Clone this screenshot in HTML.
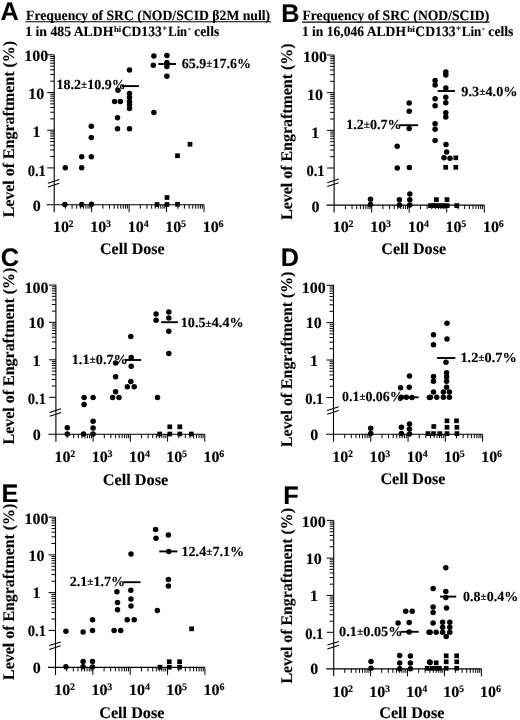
<!DOCTYPE html>
<html><head><meta charset="utf-8"><style>
html,body{margin:0;padding:0;background:#fff;}
body{width:520px;height:720px;overflow:hidden;}
svg{display:block;will-change:transform;}
text{font-family:"Liberation Serif",serif;font-weight:bold;fill:#000;stroke:#000;stroke-width:0.12px;text-rendering:geometricPrecision;}
.pl{font-family:"Liberation Sans",sans-serif;}
</style></head><body>
<svg width="520" height="720" viewBox="0 0 520 720">
<rect width="520" height="720" fill="#fff"/>
<path d="M54.20 54.80V212.20M46.70 204.70H204.00" stroke="#000" stroke-width="1.1" fill="none"/>
<path d="M47.20 54.80H54.20M47.20 92.50H54.20M47.20 130.20H54.20M47.20 167.90H54.20M50.20 81.15H54.20M50.20 74.51H54.20M50.20 69.80H54.20M50.20 66.15H54.20M50.20 63.16H54.20M50.20 60.64H54.20M50.20 58.45H54.20M50.20 56.53H54.20M50.20 118.85H54.20M50.20 112.21H54.20M50.20 107.50H54.20M50.20 103.85H54.20M50.20 100.86H54.20M50.20 98.34H54.20M50.20 96.15H54.20M50.20 94.23H54.20M50.20 156.55H54.20M50.20 149.91H54.20M50.20 145.20H54.20M50.20 141.55H54.20M50.20 138.56H54.20M50.20 136.04H54.20M50.20 133.85H54.20M50.20 131.93H54.20M91.65 204.70V212.20M129.10 204.70V212.20M166.55 204.70V212.20M204.00 204.70V212.20M65.47 204.70V208.70M72.07 204.70V208.70M76.75 204.70V208.70M80.38 204.70V208.70M83.34 204.70V208.70M85.85 204.70V208.70M88.02 204.70V208.70M89.94 204.70V208.70M102.92 204.70V208.70M109.52 204.70V208.70M114.20 204.70V208.70M117.83 204.70V208.70M120.79 204.70V208.70M123.30 204.70V208.70M125.47 204.70V208.70M127.39 204.70V208.70M140.37 204.70V208.70M146.97 204.70V208.70M151.65 204.70V208.70M155.28 204.70V208.70M158.24 204.70V208.70M160.75 204.70V208.70M162.92 204.70V208.70M164.84 204.70V208.70M177.82 204.70V208.70M184.42 204.70V208.70M189.10 204.70V208.70M192.73 204.70V208.70M195.69 204.70V208.70M198.20 204.70V208.70M200.37 204.70V208.70M202.29 204.70V208.70" stroke="#000" stroke-width="1.0" fill="none"/>
<path d="M47.90 183.20L59.40 179.50M47.90 187.00L59.40 183.30" stroke="#000" stroke-width="1.1" fill="none"/>
<text x="24.35" y="61.40" class="tl" style="font-size:15.7px" textLength="24.02" lengthAdjust="spacingAndGlyphs">100</text>
<text x="28.35" y="99.10" class="tl" style="font-size:15.7px" textLength="16.01" lengthAdjust="spacingAndGlyphs">10</text>
<text x="32.48" y="136.80" class="tl" style="font-size:15.7px" textLength="8.01" lengthAdjust="spacingAndGlyphs">1</text>
<text x="27.68" y="175.80" class="tl" style="font-size:15.7px" textLength="18.25" lengthAdjust="spacingAndGlyphs">0.1</text>
<text x="32.70" y="210.50" class="tl" style="font-size:15.7px" textLength="8.01" lengthAdjust="spacingAndGlyphs">0</text>
<text x="52.92" y="231.80" class="tl" style="font-size:15.7px" textLength="16.01" lengthAdjust="spacingAndGlyphs">10</text>
<text x="68.61" y="226.90" class="tl" style="font-size:10.0px" textLength="5.00" lengthAdjust="spacingAndGlyphs">2</text>
<text x="90.37" y="231.80" class="tl" style="font-size:15.7px" textLength="16.01" lengthAdjust="spacingAndGlyphs">10</text>
<text x="106.11" y="226.90" class="tl" style="font-size:10.0px" textLength="5.00" lengthAdjust="spacingAndGlyphs">3</text>
<text x="127.82" y="231.80" class="tl" style="font-size:15.7px" textLength="16.01" lengthAdjust="spacingAndGlyphs">10</text>
<text x="143.81" y="226.90" class="tl" style="font-size:10.0px" textLength="5.00" lengthAdjust="spacingAndGlyphs">4</text>
<text x="165.27" y="231.80" class="tl" style="font-size:15.7px" textLength="16.01" lengthAdjust="spacingAndGlyphs">10</text>
<text x="180.98" y="226.90" class="tl" style="font-size:10.0px" textLength="5.00" lengthAdjust="spacingAndGlyphs">5</text>
<text x="202.72" y="231.80" class="tl" style="font-size:15.7px" textLength="16.01" lengthAdjust="spacingAndGlyphs">10</text>
<text x="218.48" y="226.90" class="tl" style="font-size:10.0px" textLength="5.00" lengthAdjust="spacingAndGlyphs">6</text>
<g transform="translate(14.00 129.40) rotate(-90)"><text x="-87.98" y="0.00" class="at" style="font-size:16.2px" textLength="176.37" lengthAdjust="spacingAndGlyphs">Level of Engraftment (%)</text></g>
<text x="100.00" y="253.60" class="at" style="font-size:16.2px" textLength="64.64" lengthAdjust="spacingAndGlyphs">Cell Dose</text>
<circle cx="65.30" cy="167.80" r="2.75"/>
<circle cx="64.90" cy="204.60" r="2.75"/>
<circle cx="81.70" cy="156.70" r="2.75"/>
<circle cx="81.70" cy="167.70" r="2.75"/>
<circle cx="81.70" cy="204.50" r="2.75"/>
<circle cx="91.30" cy="126.30" r="2.75"/>
<circle cx="91.30" cy="137.50" r="2.75"/>
<circle cx="91.30" cy="156.70" r="2.75"/>
<circle cx="91.50" cy="204.30" r="2.75"/>
<circle cx="118.00" cy="90.20" r="2.75"/>
<circle cx="114.60" cy="101.50" r="2.75"/>
<circle cx="120.40" cy="101.50" r="2.75"/>
<circle cx="117.50" cy="117.80" r="2.75"/>
<circle cx="117.50" cy="128.75" r="2.75"/>
<circle cx="129.50" cy="69.90" r="2.75"/>
<circle cx="129.50" cy="93.50" r="2.75"/>
<circle cx="129.50" cy="97.50" r="2.75"/>
<circle cx="129.50" cy="101.70" r="2.75"/>
<circle cx="129.50" cy="104.80" r="2.75"/>
<circle cx="129.50" cy="108.40" r="2.75"/>
<circle cx="129.50" cy="128.75" r="2.75"/>
<circle cx="153.90" cy="55.90" r="2.75"/>
<circle cx="166.90" cy="55.40" r="2.75"/>
<circle cx="153.30" cy="65.30" r="2.75"/>
<circle cx="166.90" cy="62.50" r="2.75"/>
<circle cx="166.90" cy="66.40" r="2.75"/>
<circle cx="166.90" cy="76.25" r="2.75"/>
<circle cx="153.90" cy="112.50" r="2.75"/>
<rect x="187.65" y="141.90" width="4.7" height="4.7"/>
<rect x="175.15" y="153.40" width="4.7" height="4.7"/>
<rect x="164.65" y="195.15" width="4.7" height="4.7"/>
<rect x="154.65" y="202.15" width="4.7" height="4.7"/>
<rect x="164.65" y="202.15" width="4.7" height="4.7"/>
<rect x="175.15" y="201.95" width="4.7" height="4.7"/>
<path d="M122.00 86.10H138.90" stroke="#000" stroke-width="1.9"/>
<path d="M158.30 64.00H176.00" stroke="#000" stroke-width="1.9"/>
<text x="56.58" y="88.90" class="dl" style="font-size:13.9px" textLength="69.25" lengthAdjust="spacingAndGlyphs">18.2<tspan dy="-0.8" style="font-size:11.12px">±</tspan><tspan dy="0.8">10.9%</tspan></text>
<text x="181.81" y="68.10" class="dl" style="font-size:13.9px" textLength="69.12" lengthAdjust="spacingAndGlyphs">65.9<tspan dy="-0.8" style="font-size:11.12px">±</tspan><tspan dy="0.8">17.6%</tspan></text>
<text x="0.41" y="20.20" class="pl" style="font-size:25.3px" textLength="18.27" lengthAdjust="spacingAndGlyphs">A</text>
<path d="M334.10 55.00V212.60M326.60 205.10H484.30" stroke="#000" stroke-width="1.1" fill="none"/>
<path d="M327.10 55.00H334.10M327.10 92.67H334.10M327.10 130.34H334.10M327.10 168.01H334.10M330.10 81.33H334.10M330.10 74.70H334.10M330.10 69.99H334.10M330.10 66.34H334.10M330.10 63.36H334.10M330.10 60.84H334.10M330.10 58.65H334.10M330.10 56.72H334.10M330.10 119.00H334.10M330.10 112.37H334.10M330.10 107.66H334.10M330.10 104.01H334.10M330.10 101.03H334.10M330.10 98.51H334.10M330.10 96.32H334.10M330.10 94.39H334.10M330.10 156.67H334.10M330.10 150.04H334.10M330.10 145.33H334.10M330.10 141.68H334.10M330.10 138.70H334.10M330.10 136.18H334.10M330.10 133.99H334.10M330.10 132.06H334.10M371.65 205.10V212.60M409.20 205.10V212.60M446.75 205.10V212.60M484.30 205.10V212.60M345.40 205.10V209.10M352.02 205.10V209.10M356.71 205.10V209.10M360.35 205.10V209.10M363.32 205.10V209.10M365.83 205.10V209.10M368.01 205.10V209.10M369.93 205.10V209.10M382.95 205.10V209.10M389.57 205.10V209.10M394.26 205.10V209.10M397.90 205.10V209.10M400.87 205.10V209.10M403.38 205.10V209.10M405.56 205.10V209.10M407.48 205.10V209.10M420.50 205.10V209.10M427.12 205.10V209.10M431.81 205.10V209.10M435.45 205.10V209.10M438.42 205.10V209.10M440.93 205.10V209.10M443.11 205.10V209.10M445.03 205.10V209.10M458.05 205.10V209.10M464.67 205.10V209.10M469.36 205.10V209.10M473.00 205.10V209.10M475.97 205.10V209.10M478.48 205.10V209.10M480.66 205.10V209.10M482.58 205.10V209.10" stroke="#000" stroke-width="1.0" fill="none"/>
<path d="M327.30 182.70L338.70 179.00M327.30 186.50L338.70 182.80" stroke="#000" stroke-width="1.1" fill="none"/>
<text x="303.05" y="62.30" class="tl" style="font-size:15.7px" textLength="24.02" lengthAdjust="spacingAndGlyphs">100</text>
<text x="307.05" y="99.97" class="tl" style="font-size:15.7px" textLength="16.01" lengthAdjust="spacingAndGlyphs">10</text>
<text x="311.18" y="137.64" class="tl" style="font-size:15.7px" textLength="8.01" lengthAdjust="spacingAndGlyphs">1</text>
<text x="306.38" y="176.21" class="tl" style="font-size:15.7px" textLength="18.25" lengthAdjust="spacingAndGlyphs">0.1</text>
<text x="311.40" y="212.00" class="tl" style="font-size:15.7px" textLength="8.01" lengthAdjust="spacingAndGlyphs">0</text>
<text x="332.82" y="232.10" class="tl" style="font-size:15.7px" textLength="16.01" lengthAdjust="spacingAndGlyphs">10</text>
<text x="348.51" y="227.20" class="tl" style="font-size:10.0px" textLength="5.00" lengthAdjust="spacingAndGlyphs">2</text>
<text x="370.37" y="232.10" class="tl" style="font-size:15.7px" textLength="16.01" lengthAdjust="spacingAndGlyphs">10</text>
<text x="386.11" y="227.20" class="tl" style="font-size:10.0px" textLength="5.00" lengthAdjust="spacingAndGlyphs">3</text>
<text x="407.92" y="232.10" class="tl" style="font-size:15.7px" textLength="16.01" lengthAdjust="spacingAndGlyphs">10</text>
<text x="423.91" y="227.20" class="tl" style="font-size:10.0px" textLength="5.00" lengthAdjust="spacingAndGlyphs">4</text>
<text x="445.47" y="232.10" class="tl" style="font-size:15.7px" textLength="16.01" lengthAdjust="spacingAndGlyphs">10</text>
<text x="461.18" y="227.20" class="tl" style="font-size:10.0px" textLength="5.00" lengthAdjust="spacingAndGlyphs">5</text>
<text x="483.02" y="232.10" class="tl" style="font-size:15.7px" textLength="16.01" lengthAdjust="spacingAndGlyphs">10</text>
<text x="498.78" y="227.20" class="tl" style="font-size:10.0px" textLength="5.00" lengthAdjust="spacingAndGlyphs">6</text>
<g transform="translate(291.90 131.90) rotate(-90)"><text x="-87.98" y="0.00" class="at" style="font-size:16.2px" textLength="176.37" lengthAdjust="spacingAndGlyphs">Level of Engraftment (%)</text></g>
<text x="381.30" y="253.70" class="at" style="font-size:16.2px" textLength="64.74" lengthAdjust="spacingAndGlyphs">Cell Dose</text>
<circle cx="370.50" cy="199.20" r="2.75"/>
<circle cx="370.50" cy="204.60" r="2.75"/>
<circle cx="397.20" cy="146.20" r="2.75"/>
<circle cx="397.30" cy="168.00" r="2.75"/>
<circle cx="399.40" cy="199.80" r="2.75"/>
<circle cx="399.40" cy="205.00" r="2.75"/>
<circle cx="409.20" cy="103.10" r="2.75"/>
<circle cx="409.20" cy="111.20" r="2.75"/>
<circle cx="409.20" cy="128.60" r="2.75"/>
<circle cx="409.40" cy="167.50" r="2.75"/>
<circle cx="409.80" cy="194.10" r="2.75"/>
<circle cx="409.80" cy="199.80" r="2.75"/>
<circle cx="409.80" cy="205.00" r="2.75"/>
<circle cx="435.10" cy="80.60" r="2.75"/>
<circle cx="435.10" cy="85.10" r="2.75"/>
<circle cx="435.10" cy="98.80" r="2.75"/>
<circle cx="435.10" cy="105.80" r="2.75"/>
<circle cx="435.10" cy="123.80" r="2.75"/>
<circle cx="435.10" cy="129.20" r="2.75"/>
<circle cx="435.10" cy="140.60" r="2.75"/>
<circle cx="446.00" cy="144.50" r="2.75"/>
<circle cx="445.80" cy="71.90" r="2.75"/>
<circle cx="445.80" cy="75.00" r="2.75"/>
<circle cx="445.80" cy="88.10" r="2.75"/>
<circle cx="445.80" cy="97.30" r="2.75"/>
<circle cx="445.80" cy="102.70" r="2.75"/>
<circle cx="445.80" cy="112.70" r="2.75"/>
<circle cx="445.80" cy="117.00" r="2.75"/>
<circle cx="446.60" cy="152.10" r="2.75"/>
<circle cx="444.00" cy="157.80" r="2.75"/>
<circle cx="450.00" cy="158.30" r="2.75"/>
<rect x="453.45" y="155.45" width="4.7" height="4.7"/>
<rect x="443.35" y="164.95" width="4.7" height="4.7"/>
<rect x="453.45" y="164.95" width="4.7" height="4.7"/>
<rect x="428.15" y="203.25" width="4.7" height="4.7"/>
<rect x="431.25" y="203.25" width="4.7" height="4.7"/>
<rect x="434.45" y="203.25" width="4.7" height="4.7"/>
<rect x="437.85" y="203.25" width="4.7" height="4.7"/>
<rect x="440.65" y="203.25" width="4.7" height="4.7"/>
<rect x="444.85" y="203.25" width="4.7" height="4.7"/>
<rect x="454.45" y="203.25" width="4.7" height="4.7"/>
<rect x="434.05" y="197.25" width="4.7" height="4.7"/>
<rect x="444.65" y="197.25" width="4.7" height="4.7"/>
<path d="M399.60 125.20H418.10" stroke="#000" stroke-width="1.9"/>
<path d="M437.70 91.00H455.00" stroke="#000" stroke-width="1.9"/>
<text x="346.17" y="128.80" class="dl" style="font-size:13.9px" textLength="55.57" lengthAdjust="spacingAndGlyphs">1.2<tspan dy="-0.8" style="font-size:11.12px">±</tspan><tspan dy="0.8">0.7%</tspan></text>
<text x="461.36" y="95.50" class="dl" style="font-size:13.9px" textLength="56.20" lengthAdjust="spacingAndGlyphs">9.3<tspan dy="-0.8" style="font-size:11.12px">±</tspan><tspan dy="0.8">4.0%</tspan></text>
<text x="281.29" y="21.60" class="pl" style="font-size:25.3px" textLength="18.27" lengthAdjust="spacingAndGlyphs">B</text>
<path d="M55.90 284.80V441.70M48.40 434.20H204.80" stroke="#000" stroke-width="1.1" fill="none"/>
<path d="M48.90 285.10H55.90M48.90 322.30H55.90M48.90 359.80H55.90M48.90 397.30H55.90M51.90 311.10H55.90M51.90 304.55H55.90M51.90 299.90H55.90M51.90 296.30H55.90M51.90 293.35H55.90M51.90 290.86H55.90M51.90 288.71H55.90M51.90 286.80H55.90M51.90 348.51H55.90M51.90 341.91H55.90M51.90 337.22H55.90M51.90 333.59H55.90M51.90 330.62H55.90M51.90 328.11H55.90M51.90 325.93H55.90M51.90 324.02H55.90M51.90 386.01H55.90M51.90 379.41H55.90M51.90 374.72H55.90M51.90 371.09H55.90M51.90 368.12H55.90M51.90 365.61H55.90M51.90 363.43H55.90M51.90 361.52H55.90M93.12 434.20V441.70M130.35 434.20V441.70M167.58 434.20V441.70M204.80 434.20V441.70M67.11 434.20V438.20M73.66 434.20V438.20M78.31 434.20V438.20M81.92 434.20V438.20M84.87 434.20V438.20M87.36 434.20V438.20M89.52 434.20V438.20M91.42 434.20V438.20M104.33 434.20V438.20M110.89 434.20V438.20M115.54 434.20V438.20M119.14 434.20V438.20M122.09 434.20V438.20M124.58 434.20V438.20M126.74 434.20V438.20M128.65 434.20V438.20M141.56 434.20V438.20M148.11 434.20V438.20M152.76 434.20V438.20M156.37 434.20V438.20M159.32 434.20V438.20M161.81 434.20V438.20M163.97 434.20V438.20M165.87 434.20V438.20M178.78 434.20V438.20M185.34 434.20V438.20M189.99 434.20V438.20M193.59 434.20V438.20M196.54 434.20V438.20M199.03 434.20V438.20M201.19 434.20V438.20M203.10 434.20V438.20" stroke="#000" stroke-width="1.0" fill="none"/>
<path d="M49.60 412.50L61.10 408.80M49.60 416.30L61.10 412.60" stroke="#000" stroke-width="1.1" fill="none"/>
<text x="24.45" y="292.70" class="tl" style="font-size:15.7px" textLength="24.02" lengthAdjust="spacingAndGlyphs">100</text>
<text x="28.45" y="328.30" class="tl" style="font-size:15.7px" textLength="16.01" lengthAdjust="spacingAndGlyphs">10</text>
<text x="32.58" y="365.80" class="tl" style="font-size:15.7px" textLength="8.01" lengthAdjust="spacingAndGlyphs">1</text>
<text x="27.78" y="404.15" class="tl" style="font-size:15.7px" textLength="18.25" lengthAdjust="spacingAndGlyphs">0.1</text>
<text x="32.80" y="440.20" class="tl" style="font-size:15.7px" textLength="8.01" lengthAdjust="spacingAndGlyphs">0</text>
<text x="54.62" y="461.80" class="tl" style="font-size:15.7px" textLength="16.01" lengthAdjust="spacingAndGlyphs">10</text>
<text x="70.31" y="456.90" class="tl" style="font-size:10.0px" textLength="5.00" lengthAdjust="spacingAndGlyphs">2</text>
<text x="91.84" y="461.80" class="tl" style="font-size:15.7px" textLength="16.01" lengthAdjust="spacingAndGlyphs">10</text>
<text x="107.58" y="456.90" class="tl" style="font-size:10.0px" textLength="5.00" lengthAdjust="spacingAndGlyphs">3</text>
<text x="129.07" y="461.80" class="tl" style="font-size:15.7px" textLength="16.01" lengthAdjust="spacingAndGlyphs">10</text>
<text x="145.06" y="456.90" class="tl" style="font-size:10.0px" textLength="5.00" lengthAdjust="spacingAndGlyphs">4</text>
<text x="166.29" y="461.80" class="tl" style="font-size:15.7px" textLength="16.01" lengthAdjust="spacingAndGlyphs">10</text>
<text x="182.01" y="456.90" class="tl" style="font-size:10.0px" textLength="5.00" lengthAdjust="spacingAndGlyphs">5</text>
<text x="203.52" y="461.80" class="tl" style="font-size:15.7px" textLength="16.01" lengthAdjust="spacingAndGlyphs">10</text>
<text x="219.28" y="456.90" class="tl" style="font-size:10.0px" textLength="5.00" lengthAdjust="spacingAndGlyphs">6</text>
<g transform="translate(13.80 356.25) rotate(-90)"><text x="-88.23" y="0.00" class="at" style="font-size:16.2px" textLength="176.87" lengthAdjust="spacingAndGlyphs">Level of Engraftment (%)</text></g>
<text x="102.68" y="485.00" class="at" style="font-size:16.2px" textLength="65.66" lengthAdjust="spacingAndGlyphs">Cell Dose</text>
<circle cx="67.30" cy="427.80" r="2.75"/>
<circle cx="67.30" cy="433.90" r="2.75"/>
<circle cx="84.10" cy="397.50" r="2.75"/>
<circle cx="84.10" cy="404.40" r="2.75"/>
<circle cx="83.50" cy="433.90" r="2.75"/>
<circle cx="93.10" cy="397.50" r="2.75"/>
<circle cx="93.10" cy="421.30" r="2.75"/>
<circle cx="93.10" cy="428.00" r="2.75"/>
<circle cx="93.00" cy="433.90" r="2.75"/>
<circle cx="112.60" cy="397.50" r="2.75"/>
<circle cx="119.00" cy="397.50" r="2.75"/>
<circle cx="115.60" cy="391.80" r="2.75"/>
<circle cx="115.60" cy="376.70" r="2.75"/>
<circle cx="115.60" cy="363.10" r="2.75"/>
<circle cx="130.80" cy="336.60" r="2.75"/>
<circle cx="131.20" cy="357.40" r="2.75"/>
<circle cx="131.20" cy="366.20" r="2.75"/>
<circle cx="130.80" cy="381.60" r="2.75"/>
<circle cx="127.30" cy="386.70" r="2.75"/>
<circle cx="134.20" cy="386.70" r="2.75"/>
<circle cx="156.10" cy="314.10" r="2.75"/>
<circle cx="156.10" cy="320.20" r="2.75"/>
<circle cx="168.80" cy="312.10" r="2.75"/>
<circle cx="168.80" cy="318.10" r="2.75"/>
<circle cx="168.80" cy="331.20" r="2.75"/>
<circle cx="168.80" cy="353.40" r="2.75"/>
<circle cx="157.50" cy="397.60" r="2.75"/>
<rect x="167.45" y="424.45" width="4.7" height="4.7"/>
<rect x="177.45" y="424.45" width="4.7" height="4.7"/>
<rect x="157.35" y="431.65" width="4.7" height="4.7"/>
<rect x="167.45" y="431.65" width="4.7" height="4.7"/>
<rect x="177.45" y="431.65" width="4.7" height="4.7"/>
<rect x="188.95" y="431.65" width="4.7" height="4.7"/>
<path d="M125.00 360.00H141.20" stroke="#000" stroke-width="1.9"/>
<path d="M161.10 322.20H177.90" stroke="#000" stroke-width="1.9"/>
<text x="71.76" y="364.20" class="dl" style="font-size:13.9px" textLength="56.09" lengthAdjust="spacingAndGlyphs">1.1<tspan dy="-0.8" style="font-size:11.12px">±</tspan><tspan dy="0.8">0.7%</tspan></text>
<text x="180.77" y="327.40" class="dl" style="font-size:13.9px" textLength="62.88" lengthAdjust="spacingAndGlyphs">10.5<tspan dy="-0.8" style="font-size:11.12px">±</tspan><tspan dy="0.8">4.4%</tspan></text>
<text x="0.69" y="265.70" class="pl" style="font-size:25.3px" textLength="18.27" lengthAdjust="spacingAndGlyphs">C</text>
<path d="M333.50 284.80V441.70M326.00 434.20H482.60" stroke="#000" stroke-width="1.1" fill="none"/>
<path d="M326.50 285.30H333.50M326.50 322.60H333.50M326.50 360.00H333.50M326.50 397.50H333.50M329.50 311.37H333.50M329.50 304.80H333.50M329.50 300.14H333.50M329.50 296.53H333.50M329.50 293.57H333.50M329.50 291.08H333.50M329.50 288.91H333.50M329.50 287.01H333.50M329.50 348.74H333.50M329.50 342.16H333.50M329.50 337.48H333.50M329.50 333.86H333.50M329.50 330.90H333.50M329.50 328.39H333.50M329.50 326.22H333.50M329.50 324.31H333.50M329.50 386.21H333.50M329.50 379.61H333.50M329.50 374.92H333.50M329.50 371.29H333.50M329.50 368.32H333.50M329.50 365.81H333.50M329.50 363.63H333.50M329.50 361.72H333.50M370.77 434.20V441.70M408.05 434.20V441.70M445.33 434.20V441.70M482.60 434.20V441.70M344.72 434.20V438.20M351.28 434.20V438.20M355.94 434.20V438.20M359.55 434.20V438.20M362.51 434.20V438.20M365.00 434.20V438.20M367.16 434.20V438.20M369.07 434.20V438.20M382.00 434.20V438.20M388.56 434.20V438.20M393.22 434.20V438.20M396.83 434.20V438.20M399.78 434.20V438.20M402.28 434.20V438.20M404.44 434.20V438.20M406.34 434.20V438.20M419.27 434.20V438.20M425.83 434.20V438.20M430.49 434.20V438.20M434.10 434.20V438.20M437.06 434.20V438.20M439.55 434.20V438.20M441.71 434.20V438.20M443.62 434.20V438.20M456.55 434.20V438.20M463.11 434.20V438.20M467.77 434.20V438.20M471.38 434.20V438.20M474.33 434.20V438.20M476.83 434.20V438.20M478.99 434.20V438.20M480.89 434.20V438.20" stroke="#000" stroke-width="1.0" fill="none"/>
<path d="M327.20 410.40L338.70 406.70M327.20 414.20L338.70 410.50" stroke="#000" stroke-width="1.1" fill="none"/>
<text x="301.85" y="292.70" class="tl" style="font-size:15.7px" textLength="24.02" lengthAdjust="spacingAndGlyphs">100</text>
<text x="305.85" y="328.40" class="tl" style="font-size:15.7px" textLength="16.01" lengthAdjust="spacingAndGlyphs">10</text>
<text x="309.98" y="365.80" class="tl" style="font-size:15.7px" textLength="8.01" lengthAdjust="spacingAndGlyphs">1</text>
<text x="305.18" y="404.15" class="tl" style="font-size:15.7px" textLength="18.25" lengthAdjust="spacingAndGlyphs">0.1</text>
<text x="310.20" y="440.00" class="tl" style="font-size:15.7px" textLength="8.01" lengthAdjust="spacingAndGlyphs">0</text>
<text x="332.22" y="461.80" class="tl" style="font-size:15.7px" textLength="16.01" lengthAdjust="spacingAndGlyphs">10</text>
<text x="347.91" y="456.90" class="tl" style="font-size:10.0px" textLength="5.00" lengthAdjust="spacingAndGlyphs">2</text>
<text x="369.49" y="461.80" class="tl" style="font-size:15.7px" textLength="16.01" lengthAdjust="spacingAndGlyphs">10</text>
<text x="385.23" y="456.90" class="tl" style="font-size:10.0px" textLength="5.00" lengthAdjust="spacingAndGlyphs">3</text>
<text x="406.77" y="461.80" class="tl" style="font-size:15.7px" textLength="16.01" lengthAdjust="spacingAndGlyphs">10</text>
<text x="422.76" y="456.90" class="tl" style="font-size:10.0px" textLength="5.00" lengthAdjust="spacingAndGlyphs">4</text>
<text x="444.04" y="461.80" class="tl" style="font-size:15.7px" textLength="16.01" lengthAdjust="spacingAndGlyphs">10</text>
<text x="459.76" y="456.90" class="tl" style="font-size:10.0px" textLength="5.00" lengthAdjust="spacingAndGlyphs">5</text>
<text x="481.32" y="461.80" class="tl" style="font-size:15.7px" textLength="16.01" lengthAdjust="spacingAndGlyphs">10</text>
<text x="497.08" y="456.90" class="tl" style="font-size:10.0px" textLength="5.00" lengthAdjust="spacingAndGlyphs">6</text>
<g transform="translate(291.70 359.50) rotate(-90)"><text x="-87.48" y="0.00" class="at" style="font-size:16.2px" textLength="175.36" lengthAdjust="spacingAndGlyphs">Level of Engraftment (%)</text></g>
<text x="380.39" y="483.90" class="at" style="font-size:16.2px" textLength="65.04" lengthAdjust="spacingAndGlyphs">Cell Dose</text>
<circle cx="370.70" cy="428.20" r="2.75"/>
<circle cx="370.70" cy="433.60" r="2.75"/>
<circle cx="401.40" cy="427.30" r="2.75"/>
<circle cx="401.40" cy="433.60" r="2.75"/>
<circle cx="409.50" cy="424.10" r="2.75"/>
<circle cx="409.50" cy="429.10" r="2.75"/>
<circle cx="409.50" cy="434.00" r="2.75"/>
<circle cx="400.60" cy="387.70" r="2.75"/>
<circle cx="409.20" cy="387.30" r="2.75"/>
<circle cx="409.50" cy="375.90" r="2.75"/>
<circle cx="401.30" cy="397.30" r="2.75"/>
<circle cx="406.30" cy="397.20" r="2.75"/>
<circle cx="412.00" cy="397.40" r="2.75"/>
<circle cx="429.40" cy="397.50" r="2.75"/>
<circle cx="447.00" cy="323.20" r="2.75"/>
<circle cx="433.50" cy="334.70" r="2.75"/>
<circle cx="447.00" cy="338.90" r="2.75"/>
<circle cx="433.50" cy="344.80" r="2.75"/>
<circle cx="446.00" cy="362.20" r="2.75"/>
<circle cx="433.50" cy="376.40" r="2.75"/>
<circle cx="433.50" cy="381.30" r="2.75"/>
<circle cx="433.50" cy="392.10" r="2.75"/>
<circle cx="430.40" cy="397.20" r="2.75"/>
<circle cx="436.70" cy="397.20" r="2.75"/>
<circle cx="446.60" cy="372.80" r="2.75"/>
<circle cx="446.60" cy="376.80" r="2.75"/>
<circle cx="446.60" cy="381.30" r="2.75"/>
<circle cx="446.60" cy="387.30" r="2.75"/>
<circle cx="443.40" cy="392.10" r="2.75"/>
<circle cx="449.40" cy="392.10" r="2.75"/>
<circle cx="443.40" cy="397.20" r="2.75"/>
<circle cx="449.40" cy="397.20" r="2.75"/>
<rect x="431.45" y="424.15" width="4.7" height="4.7"/>
<rect x="444.65" y="418.45" width="4.7" height="4.7"/>
<rect x="454.15" y="418.45" width="4.7" height="4.7"/>
<rect x="444.65" y="424.95" width="4.7" height="4.7"/>
<rect x="454.55" y="424.95" width="4.7" height="4.7"/>
<rect x="425.65" y="431.25" width="4.7" height="4.7"/>
<rect x="431.15" y="431.25" width="4.7" height="4.7"/>
<rect x="437.45" y="431.25" width="4.7" height="4.7"/>
<rect x="444.65" y="431.25" width="4.7" height="4.7"/>
<rect x="454.55" y="431.25" width="4.7" height="4.7"/>
<path d="M399.80 397.30H418.60" stroke="#000" stroke-width="1.9"/>
<path d="M437.10 358.00H455.30" stroke="#000" stroke-width="1.9"/>
<text x="342.08" y="401.20" class="dl" style="font-size:13.9px" textLength="61.43" lengthAdjust="spacingAndGlyphs">0.1<tspan dy="-0.8" style="font-size:11.12px">±</tspan><tspan dy="0.8">0.06%</tspan></text>
<text x="460.46" y="361.90" class="dl" style="font-size:13.9px" textLength="56.30" lengthAdjust="spacingAndGlyphs">1.2<tspan dy="-0.8" style="font-size:11.12px">±</tspan><tspan dy="0.8">0.7%</tspan></text>
<text x="280.79" y="266.30" class="pl" style="font-size:25.3px" textLength="18.27" lengthAdjust="spacingAndGlyphs">D</text>
<path d="M55.50 517.10V674.90M48.00 667.40H204.90" stroke="#000" stroke-width="1.1" fill="none"/>
<path d="M48.50 517.10H55.50M48.50 554.87H55.50M48.50 592.64H55.50M48.50 630.41H55.50M51.50 543.50H55.50M51.50 536.85H55.50M51.50 532.13H55.50M51.50 528.47H55.50M51.50 525.48H55.50M51.50 522.95H55.50M51.50 520.76H55.50M51.50 518.83H55.50M51.50 581.27H55.50M51.50 574.62H55.50M51.50 569.90H55.50M51.50 566.24H55.50M51.50 563.25H55.50M51.50 560.72H55.50M51.50 558.53H55.50M51.50 556.60H55.50M51.50 619.04H55.50M51.50 612.39H55.50M51.50 607.67H55.50M51.50 604.01H55.50M51.50 601.02H55.50M51.50 598.49H55.50M51.50 596.30H55.50M51.50 594.37H55.50M92.85 667.40V674.90M130.20 667.40V674.90M167.55 667.40V674.90M204.90 667.40V674.90M66.74 667.40V671.40M73.32 667.40V671.40M77.99 667.40V671.40M81.61 667.40V671.40M84.56 667.40V671.40M87.06 667.40V671.40M89.23 667.40V671.40M91.14 667.40V671.40M104.09 667.40V671.40M110.67 667.40V671.40M115.34 667.40V671.40M118.96 667.40V671.40M121.91 667.40V671.40M124.41 667.40V671.40M126.58 667.40V671.40M128.49 667.40V671.40M141.44 667.40V671.40M148.02 667.40V671.40M152.69 667.40V671.40M156.31 667.40V671.40M159.26 667.40V671.40M161.76 667.40V671.40M163.93 667.40V671.40M165.84 667.40V671.40M178.79 667.40V671.40M185.37 667.40V671.40M190.04 667.40V671.40M193.66 667.40V671.40M196.61 667.40V671.40M199.11 667.40V671.40M201.28 667.40V671.40M203.19 667.40V671.40" stroke="#000" stroke-width="1.0" fill="none"/>
<path d="M49.20 645.60L60.70 641.90M49.20 649.40L60.70 645.70" stroke="#000" stroke-width="1.1" fill="none"/>
<text x="24.45" y="524.40" class="tl" style="font-size:15.7px" textLength="24.02" lengthAdjust="spacingAndGlyphs">100</text>
<text x="28.45" y="560.77" class="tl" style="font-size:15.7px" textLength="16.01" lengthAdjust="spacingAndGlyphs">10</text>
<text x="32.58" y="598.34" class="tl" style="font-size:15.7px" textLength="8.01" lengthAdjust="spacingAndGlyphs">1</text>
<text x="27.78" y="636.31" class="tl" style="font-size:15.7px" textLength="18.25" lengthAdjust="spacingAndGlyphs">0.1</text>
<text x="32.80" y="673.10" class="tl" style="font-size:15.7px" textLength="8.01" lengthAdjust="spacingAndGlyphs">0</text>
<text x="54.22" y="694.50" class="tl" style="font-size:15.7px" textLength="16.01" lengthAdjust="spacingAndGlyphs">10</text>
<text x="69.91" y="689.60" class="tl" style="font-size:10.0px" textLength="5.00" lengthAdjust="spacingAndGlyphs">2</text>
<text x="91.57" y="694.50" class="tl" style="font-size:15.7px" textLength="16.01" lengthAdjust="spacingAndGlyphs">10</text>
<text x="107.31" y="689.60" class="tl" style="font-size:10.0px" textLength="5.00" lengthAdjust="spacingAndGlyphs">3</text>
<text x="128.92" y="694.50" class="tl" style="font-size:15.7px" textLength="16.01" lengthAdjust="spacingAndGlyphs">10</text>
<text x="144.91" y="689.60" class="tl" style="font-size:10.0px" textLength="5.00" lengthAdjust="spacingAndGlyphs">4</text>
<text x="166.27" y="694.50" class="tl" style="font-size:15.7px" textLength="16.01" lengthAdjust="spacingAndGlyphs">10</text>
<text x="181.98" y="689.60" class="tl" style="font-size:10.0px" textLength="5.00" lengthAdjust="spacingAndGlyphs">5</text>
<text x="203.62" y="694.50" class="tl" style="font-size:15.7px" textLength="16.01" lengthAdjust="spacingAndGlyphs">10</text>
<text x="219.38" y="689.60" class="tl" style="font-size:10.0px" textLength="5.00" lengthAdjust="spacingAndGlyphs">6</text>
<g transform="translate(13.80 592.00) rotate(-90)"><text x="-87.88" y="0.00" class="at" style="font-size:16.2px" textLength="176.17" lengthAdjust="spacingAndGlyphs">Level of Engraftment (%)</text></g>
<text x="99.19" y="718.30" class="at" style="font-size:16.2px" textLength="65.25" lengthAdjust="spacingAndGlyphs">Cell Dose</text>
<circle cx="65.90" cy="631.30" r="2.75"/>
<circle cx="65.90" cy="666.80" r="2.75"/>
<circle cx="83.10" cy="631.90" r="2.75"/>
<circle cx="83.10" cy="661.60" r="2.75"/>
<circle cx="83.10" cy="666.80" r="2.75"/>
<circle cx="92.50" cy="619.70" r="2.75"/>
<circle cx="92.50" cy="630.40" r="2.75"/>
<circle cx="92.50" cy="661.60" r="2.75"/>
<circle cx="92.50" cy="667.00" r="2.75"/>
<circle cx="114.10" cy="630.40" r="2.75"/>
<circle cx="120.70" cy="630.40" r="2.75"/>
<circle cx="117.50" cy="609.80" r="2.75"/>
<circle cx="117.50" cy="602.50" r="2.75"/>
<circle cx="116.90" cy="591.80" r="2.75"/>
<circle cx="131.00" cy="554.10" r="2.75"/>
<circle cx="130.80" cy="590.30" r="2.75"/>
<circle cx="131.00" cy="599.10" r="2.75"/>
<circle cx="131.00" cy="606.00" r="2.75"/>
<circle cx="127.20" cy="619.70" r="2.75"/>
<circle cx="134.20" cy="619.70" r="2.75"/>
<circle cx="155.60" cy="529.40" r="2.75"/>
<circle cx="156.00" cy="538.30" r="2.75"/>
<circle cx="168.40" cy="535.00" r="2.75"/>
<circle cx="168.80" cy="551.50" r="2.75"/>
<circle cx="168.40" cy="579.40" r="2.75"/>
<circle cx="168.40" cy="586.10" r="2.75"/>
<circle cx="157.30" cy="610.60" r="2.75"/>
<rect x="189.25" y="626.45" width="4.7" height="4.7"/>
<rect x="166.95" y="659.35" width="4.7" height="4.7"/>
<rect x="177.25" y="659.35" width="4.7" height="4.7"/>
<rect x="157.65" y="664.85" width="4.7" height="4.7"/>
<rect x="166.95" y="664.85" width="4.7" height="4.7"/>
<rect x="177.25" y="664.85" width="4.7" height="4.7"/>
<path d="M123.30 582.20H140.50" stroke="#000" stroke-width="1.9"/>
<path d="M159.30 551.40H177.30" stroke="#000" stroke-width="1.9"/>
<text x="69.70" y="585.50" class="dl" style="font-size:13.9px" textLength="55.44" lengthAdjust="spacingAndGlyphs">2.1<tspan dy="-0.8" style="font-size:11.12px">±</tspan><tspan dy="0.8">1.7%</tspan></text>
<text x="181.47" y="555.50" class="dl" style="font-size:13.9px" textLength="62.77" lengthAdjust="spacingAndGlyphs">12.4<tspan dy="-0.8" style="font-size:11.12px">±</tspan><tspan dy="0.8">7.1%</tspan></text>
<text x="1.49" y="501.70" class="pl" style="font-size:25.3px" textLength="16.87" lengthAdjust="spacingAndGlyphs">E</text>
<path d="M333.70 520.40V676.35M326.20 668.85H481.40" stroke="#000" stroke-width="1.1" fill="none"/>
<path d="M326.70 520.40H333.70M326.70 558.10H333.70M326.70 595.40H333.70M326.70 632.30H333.70M329.70 546.75H333.70M329.70 540.11H333.70M329.70 535.40H333.70M329.70 531.75H333.70M329.70 528.76H333.70M329.70 526.24H333.70M329.70 524.05H333.70M329.70 522.13H333.70M329.70 584.17H333.70M329.70 577.60H333.70M329.70 572.94H333.70M329.70 569.33H333.70M329.70 566.37H333.70M329.70 563.88H333.70M329.70 561.71H333.70M329.70 559.81H333.70M329.70 621.19H333.70M329.70 614.69H333.70M329.70 610.08H333.70M329.70 606.51H333.70M329.70 603.59H333.70M329.70 601.12H333.70M329.70 598.98H333.70M329.70 597.09H333.70M370.62 668.85V676.35M407.55 668.85V676.35M444.47 668.85V676.35M481.40 668.85V676.35M344.82 668.85V672.85M351.32 668.85V672.85M355.93 668.85V672.85M359.51 668.85V672.85M362.43 668.85V672.85M364.91 668.85V672.85M367.05 668.85V672.85M368.94 668.85V672.85M381.74 668.85V672.85M388.24 668.85V672.85M392.86 668.85V672.85M396.43 668.85V672.85M399.36 668.85V672.85M401.83 668.85V672.85M403.97 668.85V672.85M405.86 668.85V672.85M418.67 668.85V672.85M425.17 668.85V672.85M429.78 668.85V672.85M433.36 668.85V672.85M436.28 668.85V672.85M438.76 668.85V672.85M440.90 668.85V672.85M442.79 668.85V672.85M455.59 668.85V672.85M462.09 668.85V672.85M466.71 668.85V672.85M470.28 668.85V672.85M473.21 668.85V672.85M475.68 668.85V672.85M477.82 668.85V672.85M479.71 668.85V672.85" stroke="#000" stroke-width="1.0" fill="none"/>
<path d="M327.40 645.10L338.90 641.40M327.40 648.90L338.90 645.20" stroke="#000" stroke-width="1.1" fill="none"/>
<text x="301.85" y="526.90" class="tl" style="font-size:15.7px" textLength="24.02" lengthAdjust="spacingAndGlyphs">100</text>
<text x="305.85" y="563.60" class="tl" style="font-size:15.7px" textLength="16.01" lengthAdjust="spacingAndGlyphs">10</text>
<text x="309.98" y="600.90" class="tl" style="font-size:15.7px" textLength="8.01" lengthAdjust="spacingAndGlyphs">1</text>
<text x="305.18" y="639.10" class="tl" style="font-size:15.7px" textLength="18.25" lengthAdjust="spacingAndGlyphs">0.1</text>
<text x="310.20" y="673.90" class="tl" style="font-size:15.7px" textLength="8.01" lengthAdjust="spacingAndGlyphs">0</text>
<text x="332.42" y="696.55" class="tl" style="font-size:15.7px" textLength="16.01" lengthAdjust="spacingAndGlyphs">10</text>
<text x="348.11" y="691.65" class="tl" style="font-size:10.0px" textLength="5.00" lengthAdjust="spacingAndGlyphs">2</text>
<text x="369.34" y="696.55" class="tl" style="font-size:15.7px" textLength="16.01" lengthAdjust="spacingAndGlyphs">10</text>
<text x="385.08" y="691.65" class="tl" style="font-size:10.0px" textLength="5.00" lengthAdjust="spacingAndGlyphs">3</text>
<text x="406.27" y="696.55" class="tl" style="font-size:15.7px" textLength="16.01" lengthAdjust="spacingAndGlyphs">10</text>
<text x="422.26" y="691.65" class="tl" style="font-size:10.0px" textLength="5.00" lengthAdjust="spacingAndGlyphs">4</text>
<text x="443.19" y="696.55" class="tl" style="font-size:15.7px" textLength="16.01" lengthAdjust="spacingAndGlyphs">10</text>
<text x="458.91" y="691.65" class="tl" style="font-size:10.0px" textLength="5.00" lengthAdjust="spacingAndGlyphs">5</text>
<text x="480.12" y="696.55" class="tl" style="font-size:15.7px" textLength="16.01" lengthAdjust="spacingAndGlyphs">10</text>
<text x="495.88" y="691.65" class="tl" style="font-size:10.0px" textLength="5.00" lengthAdjust="spacingAndGlyphs">6</text>
<g transform="translate(291.70 596.00) rotate(-90)"><text x="-87.58" y="0.00" class="at" style="font-size:16.2px" textLength="175.56" lengthAdjust="spacingAndGlyphs">Level of Engraftment (%)</text></g>
<text x="379.19" y="718.30" class="at" style="font-size:16.2px" textLength="65.25" lengthAdjust="spacingAndGlyphs">Cell Dose</text>
<circle cx="371.00" cy="661.60" r="2.75"/>
<circle cx="371.00" cy="668.30" r="2.75"/>
<circle cx="398.10" cy="623.00" r="2.75"/>
<circle cx="405.70" cy="611.30" r="2.75"/>
<circle cx="412.20" cy="611.30" r="2.75"/>
<circle cx="409.20" cy="622.40" r="2.75"/>
<circle cx="409.20" cy="632.10" r="2.75"/>
<circle cx="429.10" cy="632.30" r="2.75"/>
<circle cx="399.70" cy="655.40" r="2.75"/>
<circle cx="399.70" cy="662.90" r="2.75"/>
<circle cx="399.70" cy="668.80" r="2.75"/>
<circle cx="410.40" cy="656.00" r="2.75"/>
<circle cx="410.40" cy="662.90" r="2.75"/>
<circle cx="410.40" cy="668.80" r="2.75"/>
<circle cx="429.70" cy="662.00" r="2.75"/>
<circle cx="445.80" cy="567.80" r="2.75"/>
<circle cx="433.10" cy="588.40" r="2.75"/>
<circle cx="445.80" cy="591.50" r="2.75"/>
<circle cx="445.80" cy="597.40" r="2.75"/>
<circle cx="433.10" cy="606.90" r="2.75"/>
<circle cx="433.10" cy="612.50" r="2.75"/>
<circle cx="446.50" cy="608.10" r="2.75"/>
<circle cx="433.10" cy="623.00" r="2.75"/>
<circle cx="430.10" cy="632.20" r="2.75"/>
<circle cx="436.20" cy="632.20" r="2.75"/>
<circle cx="442.60" cy="622.20" r="2.75"/>
<circle cx="449.80" cy="622.20" r="2.75"/>
<circle cx="442.60" cy="627.20" r="2.75"/>
<circle cx="449.80" cy="627.20" r="2.75"/>
<circle cx="442.60" cy="632.20" r="2.75"/>
<circle cx="449.80" cy="632.20" r="2.75"/>
<circle cx="446.20" cy="636.60" r="2.75"/>
<circle cx="430.10" cy="662.40" r="2.75"/>
<rect x="424.85" y="665.95" width="4.7" height="4.7"/>
<rect x="443.85" y="653.45" width="4.7" height="4.7"/>
<rect x="454.35" y="653.45" width="4.7" height="4.7"/>
<rect x="443.85" y="659.45" width="4.7" height="4.7"/>
<rect x="454.35" y="659.45" width="4.7" height="4.7"/>
<rect x="433.85" y="660.45" width="4.7" height="4.7"/>
<rect x="429.75" y="665.95" width="4.7" height="4.7"/>
<rect x="434.25" y="665.95" width="4.7" height="4.7"/>
<rect x="437.05" y="665.95" width="4.7" height="4.7"/>
<rect x="443.85" y="665.95" width="4.7" height="4.7"/>
<rect x="454.35" y="665.95" width="4.7" height="4.7"/>
<path d="M400.50 631.80H418.60" stroke="#000" stroke-width="1.9"/>
<path d="M440.00 596.60H456.20" stroke="#000" stroke-width="1.9"/>
<text x="339.06" y="635.50" class="dl" style="font-size:13.9px" textLength="63.50" lengthAdjust="spacingAndGlyphs">0.1<tspan dy="-0.8" style="font-size:11.12px">±</tspan><tspan dy="0.8">0.05%</tspan></text>
<text x="463.07" y="601.20" class="dl" style="font-size:13.9px" textLength="55.16" lengthAdjust="spacingAndGlyphs">0.8<tspan dy="-0.8" style="font-size:11.12px">±</tspan><tspan dy="0.8">0.4%</tspan></text>
<text x="283.29" y="503.70" class="pl" style="font-size:25.3px" textLength="15.45" lengthAdjust="spacingAndGlyphs">F</text>
<text x="26.06" y="19.70" class="tt" style="font-size:14.2px" textLength="244.12" lengthAdjust="spacingAndGlyphs">Frequency of SRC (NOD/SCID β2M null)</text>
<path d="M25.3 21.8H271" stroke="#000" stroke-width="1.1"/>
<text x="302.46" y="19.90" class="tt" style="font-size:14.2px" textLength="186.74" lengthAdjust="spacingAndGlyphs">Frequency of SRC (NOD/SCID)</text>
<path d="M302 22.1H489.4" stroke="#000" stroke-width="1.1"/>
<text x="25.20" y="35.60" class="tt" style="font-size:14.2px" textLength="88.21" lengthAdjust="spacingAndGlyphs">1 in 485 ALDH</text><text x="113.89" y="32.00" class="tt" style="font-size:8.6px" textLength="7.16" lengthAdjust="spacingAndGlyphs">hi</text><text x="121.72" y="35.60" class="tt" style="font-size:14.2px" textLength="40.00" lengthAdjust="spacingAndGlyphs">CD133</text><text x="162.58" y="31.20" class="tt" style="font-size:8.6px" textLength="4.53" lengthAdjust="spacingAndGlyphs">+</text><text x="168.28" y="35.60" class="tt" style="font-size:14.2px" textLength="18.82" lengthAdjust="spacingAndGlyphs">Lin</text><text x="187.88" y="31.20" class="tt" style="font-size:8.6px" textLength="2.82" lengthAdjust="spacingAndGlyphs">-</text><text x="194.22" y="35.60" class="tt" style="font-size:14.2px" textLength="25.02" lengthAdjust="spacingAndGlyphs">cells</text>
<text x="301.91" y="35.80" class="tt" style="font-size:14.2px" textLength="104.05" lengthAdjust="spacingAndGlyphs">1 in 16,046 ALDH</text><text x="407.17" y="32.20" class="tt" style="font-size:8.6px" textLength="7.79" lengthAdjust="spacingAndGlyphs">hi</text><text x="415.32" y="35.80" class="tt" style="font-size:14.2px" textLength="40.25" lengthAdjust="spacingAndGlyphs">CD133</text><text x="455.81" y="31.40" class="tt" style="font-size:8.6px" textLength="5.27" lengthAdjust="spacingAndGlyphs">+</text><text x="461.77" y="35.80" class="tt" style="font-size:14.2px" textLength="19.54" lengthAdjust="spacingAndGlyphs">Lin</text><text x="482.10" y="31.40" class="tt" style="font-size:8.6px" textLength="2.69" lengthAdjust="spacingAndGlyphs">-</text><text x="488.32" y="35.80" class="tt" style="font-size:14.2px" textLength="25.12" lengthAdjust="spacingAndGlyphs">cells</text>
</svg>
</body></html>
